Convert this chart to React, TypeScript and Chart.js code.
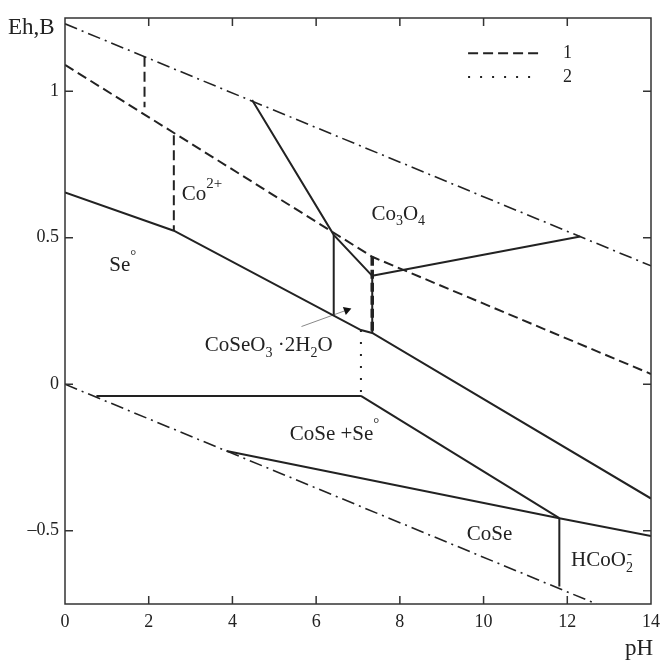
import React, { useEffect, useRef } from 'react';
import { Chart, registerables } from 'chart.js';
Chart.register(...registerables);

// ---------- axes ----------
const X_TICKS = [0, 2, 4, 6, 8, 10, 12, 14];
const Y_TICKS = [-0.5, 0, 0.5, 1];
const X_MIN = 0, X_MAX = 14, Y_MIN = -0.75, Y_MAX = 1.25;

// ---------- water stability lines (dash-dot) ----------
const waterO2PH = [0, 14];
const waterO2Eh = [1.23, 0.404];
const waterH2PH = [0, 12.7];
const waterH2Eh = [0, -0.75];

// ---------- curve 1 (dashed) ----------
const dashMainPH = [0, 7.34, 14];
const dashMainEh = [1.09, 0.435, 0.035];
const dashV1PH = [1.9, 1.9];
const dashV1Eh = [1.118, 0.945];
const dashV2PH = [2.6, 2.6];
const dashV2Eh = [0.85, 0.524];
const dashV3PH = [7.34, 7.34];
const dashV3Eh = [0.435, 0.175];

// ---------- curve 2 (dotted) ----------
const dotPH = [7.07, 7.07];
const dotEh = [0.185, -0.04];

// ---------- solid boundaries ----------
const seTopPH = [0, 2.6, 7.07, 7.34, 14];
const seTopEh = [0.655, 0.524, 0.185, 0.175, -0.39];
const co3o4LeftPH = [4.47, 6.42, 7.34];
const co3o4LeftEh = [0.97, 0.51, 0.37];
const vert642PH = [6.42, 6.42];
const vert642Eh = [0.51, 0.237];
const vert734PH = [7.34, 7.34];
const vert734Eh = [0.37, 0.175];
const co3o4LowPH = [7.34, 12.31];
const co3o4LowEh = [0.37, 0.504];
const horizPH = [0.75, 7.07];
const horizEh = [-0.04, -0.04];
const coseSeLowPH = [7.07, 11.81];
const coseSeLowEh = [-0.04, -0.457];
const coseTopPH = [3.86, 11.81, 14];
const coseTopEh = [-0.228, -0.457, -0.518];
const vert1181PH = [11.81, 11.81];
const vert1181Eh = [-0.457, -0.69];

// ---------- pointer arrow ----------
const arrowPH = [5.65, 6.73];
const arrowEh = [0.197, 0.253];

// ---------- region labels ----------
type Seg = { t?: string; sub?: string; sup?: string };
const labelPH = [2.79, 1.06, 7.32, 3.34, 5.37, 9.6, 12.09];
const labelEh = [0.629, 0.385, 0.561, 0.113, -0.19, -0.533, -0.622];
const labelSegs: Seg[][] = [
  [{ t: 'Co' }, { sup: '2+' }],
  [{ t: 'Se' }, { sup: '°' }],
  [{ t: 'Co' }, { sub: '3' }, { t: 'O' }, { sub: '4' }],
  [{ t: 'CoSeO' }, { sub: '3' }, { t: ' ·2H' }, { sub: '2' }, { t: 'O' }],
  [{ t: 'CoSe +Se' }, { sup: '°' }],
  [{ t: 'CoSe' }],
  [{ t: 'HCoO' }, { sub: '2', sup: '-' }],
];

// ---------- legend ----------
const legendNames = ['1', '2'];
const legendEh = [1.13, 1.049];
const legendPH = [9.63, 11.35, 11.9];

const FONT = '"Liberation Serif", "Times New Roman", serif';
const INK = '#222';

type Style = 'solid' | 'dashed' | 'dashedBold' | 'dashdot' | 'dotted' | 'thin';
const styleDash: Record<Style, number[]> = {
  solid: [],
  dashed: [10, 5],
  dashedBold: [9, 4],
  dashdot: [13, 5, 2, 5],
  dotted: [2, 10],
  thin: [],
};
const styleWidth: Record<Style, number> = { solid: 2, dashed: 2, dashedBold: 3.5, dashdot: 1.6, dotted: 2, thin: 1 };

const lines: [number[], number[], Style][] = [
  [waterO2PH, waterO2Eh, 'dashdot'],
  [waterH2PH, waterH2Eh, 'dashdot'],
  [dashMainPH, dashMainEh, 'dashed'],
  [dashV1PH, dashV1Eh, 'dashed'],
  [dashV2PH, dashV2Eh, 'dashed'],
  [dotPH, dotEh, 'dotted'],
  [seTopPH, seTopEh, 'solid'],
  [co3o4LeftPH, co3o4LeftEh, 'solid'],
  [vert642PH, vert642Eh, 'solid'],
  [vert734PH, vert734Eh, 'solid'],
  [co3o4LowPH, co3o4LowEh, 'solid'],
  [horizPH, horizEh, 'solid'],
  [coseSeLowPH, coseSeLowEh, 'solid'],
  [coseTopPH, coseTopEh, 'solid'],
  [vert1181PH, vert1181Eh, 'solid'],
  [dashV3PH, dashV3Eh, 'dashedBold'],
];

function drawRich(ctx: CanvasRenderingContext2D, x: number, y: number, segs: Seg[], size: number) {
  let cx = x;
  ctx.textBaseline = 'alphabetic';
  ctx.textAlign = 'left';
  for (const s of segs) {
    let adv = 0;
    if (s.t) {
      ctx.font = `${size}px ${FONT}`;
      ctx.fillText(s.t, cx, y);
      adv = Math.max(adv, ctx.measureText(s.t).width);
    }
    if (s.sub) {
      ctx.font = `${Math.round(size * 0.68)}px ${FONT}`;
      ctx.fillText(s.sub, cx, y + size * 0.26);
      adv = Math.max(adv, ctx.measureText(s.sub).width);
    }
    if (s.sup) {
      ctx.font = `${Math.round(size * 0.7)}px ${FONT}`;
      ctx.fillText(s.sup, cx + (s.sub ? 1 : 0), y - size * (s.sub ? 0.42 : 0.55));
      adv = Math.max(adv, ctx.measureText(s.sup).width);
    }
    cx += adv;
  }
}

const decorPlugin = {
  id: 'decor',
  afterDatasetsDraw(chart: any) {
    const { ctx, chartArea: a, scales } = chart;
    const xs = scales.x, ys = scales.y;
    ctx.save();
    // frame
    ctx.strokeStyle = '#333';
    ctx.lineWidth = 1.5;
    ctx.setLineDash([]);
    ctx.strokeRect(a.left, a.top, a.right - a.left, a.bottom - a.top);
    // inward ticks
    const tl = 8;
    ctx.beginPath();
    for (const v of X_TICKS) {
      const px = xs.getPixelForValue(v);
      if (v === X_MIN || v === X_MAX) continue;
      ctx.moveTo(px, a.bottom); ctx.lineTo(px, a.bottom - tl);
      ctx.moveTo(px, a.top); ctx.lineTo(px, a.top + tl);
    }
    for (const v of Y_TICKS) {
      const py = ys.getPixelForValue(v);
      ctx.moveTo(a.left, py); ctx.lineTo(a.left + tl, py);
      ctx.moveTo(a.right, py); ctx.lineTo(a.right - tl, py);
    }
    ctx.stroke();
    // region labels
    ctx.fillStyle = INK;
    labelSegs.forEach((segs, i) => {
      drawRich(ctx, xs.getPixelForValue(labelPH[i]), ys.getPixelForValue(labelEh[i]), segs, 21);
    });
    // legend
    const lx0 = xs.getPixelForValue(legendPH[0]);
    const lx1 = xs.getPixelForValue(legendPH[1]);
    const ltx = xs.getPixelForValue(legendPH[2]);
    const legendStyles: Style[] = ['dashed', 'dotted'];
    legendNames.forEach((name, i) => {
      const py = ys.getPixelForValue(legendEh[i]);
      ctx.strokeStyle = INK;
      ctx.lineWidth = 2;
      ctx.setLineDash(styleDash[legendStyles[i]]);
      ctx.beginPath();
      ctx.moveTo(lx0, py); ctx.lineTo(lx1, py);
      ctx.stroke();
      ctx.setLineDash([]);
      ctx.font = `18px ${FONT}`;
      ctx.textBaseline = 'middle';
      ctx.textAlign = 'left';
      ctx.fillText(name, ltx, py);
    });
    // axis titles
    ctx.font = `23px ${FONT}`;
    ctx.textBaseline = 'alphabetic';
    ctx.textAlign = 'left';
    ctx.fillText('Eh,B', 8, a.top + 16);
    ctx.textAlign = 'right';
    ctx.fillText('pH', a.right + 2, 655);
    ctx.restore();
  },
};

export default function App() {
  const ref = useRef<HTMLCanvasElement>(null);
  useEffect(() => {
    if (!ref.current) return;
    const datasets: any[] = lines.map(([px, py, st]) => ({
      data: px.map((x, i) => ({ x, y: py[i] })),
      showLine: true,
      borderColor: INK,
      borderWidth: styleWidth[st],
      borderDash: styleDash[st],
      pointRadius: 0,
      fill: false,
      tension: 0,
    }));
    datasets.push({
      data: arrowPH.map((x, i) => ({ x, y: arrowEh[i] })),
      showLine: true,
      borderColor: '#888',
      borderWidth: 1,
      pointRadius: [0, 5],
      pointStyle: 'triangle',
      rotation: 70,
      pointBackgroundColor: '#111',
      pointBorderColor: '#111',
      pointBorderWidth: 0,
    });
    const chart = new Chart(ref.current, {
      type: 'scatter',
      data: { datasets },
      options: {
        animation: false,
        responsive: false,
        layout: { padding: { top: 18, right: 9, left: 0, bottom: 0 } },
        plugins: { legend: { display: false }, tooltip: { enabled: false } },
        scales: {
          x: {
            type: 'linear',
            min: X_MIN,
            max: X_MAX,
            grid: { display: false, drawTicks: false },
            border: { display: false },
            afterBuildTicks: (s: any) => { s.ticks = X_TICKS.map((v) => ({ value: v })); },
            afterFit: (s: any) => { s.height = 57; s.paddingLeft = 0; s.paddingRight = 0; },
            ticks: {
              padding: 7,
              color: INK,
              font: { family: FONT, size: 18 },
              callback: (v: any) => String(v),
            },
          },
          y: {
            type: 'linear',
            min: Y_MIN,
            max: Y_MAX,
            grid: { display: false, drawTicks: false },
            border: { display: false },
            afterBuildTicks: (s: any) => { s.ticks = Y_TICKS.map((v) => ({ value: v })); },
            afterFit: (s: any) => { s.width = 65; s.paddingTop = 0; s.paddingBottom = 0; },
            ticks: {
              padding: 6,
              color: INK,
              font: { family: FONT, size: 18 },
              callback: (v: any) => (v < 0 ? '\u2013' + Math.abs(v) : String(v)),
            },
          },
        },
      },
      plugins: [decorPlugin],
    });
    return () => chart.destroy();
  }, []);
  return (
    <div style={{ position: 'absolute', left: 0, top: 0, width: 660, height: 661, background: '#fff' }}>
      <canvas ref={ref} width={660} height={661} />
    </div>
  );
}
